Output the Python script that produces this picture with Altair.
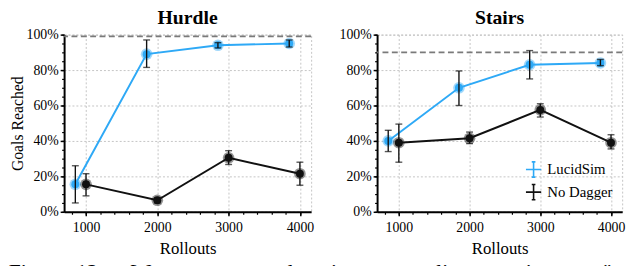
import altair as alt
import pandas as pd

FONT = "Liberation Serif, Times New Roman, Times, serif"

series = ["LucidSim", "No Dagger"]
colors = ["#2ea9f6", "#111111"]

rollouts_lucid = [850, 1850, 2850, 3850]
rollouts_nodagger = [1000, 2000, 3000, 4000]

hurdle_lucid = [15.5, 89, 94, 95]
hurdle_lucid_lo = [5, 81.5, 92.5, 93]
hurdle_lucid_hi = [26, 97, 95.5, 97]
hurdle_nod = [15.5, 6.5, 30.5, 21.5]
hurdle_nod_lo = [9, 5, 26.7, 15]
hurdle_nod_hi = [21.5, 8, 34.5, 28]
hurdle_ref = [99]

stairs_lucid = [40, 70, 83, 84]
stairs_lucid_lo = [34, 60, 75, 82.5]
stairs_lucid_hi = [46, 79.5, 91, 86]
stairs_nod = [39, 41.5, 57.5, 39]
stairs_nod_lo = [28, 38.5, 53.5, 35.5]
stairs_nod_hi = [49.5, 45, 61, 43.5]
stairs_ref = [90]

x_major = [1000, 2000, 3000, 4000]
x_minor = list(range(800, 4200, 200))
y_major = [0, 20, 40, 60, 80, 100]
y_minor = list(range(0, 105, 5))

NB = "\u00a0"
caption_words = ["Figure 12:", "We", "compare", "learning", "on-policy", "against", "naïve"]
caption = (NB * 5).join(w.replace(" ", NB + NB) for w in caption_words)

XDOM = [692.5, 4157.5]
LEGEND_SYMBOL = "M-1,0L1,0M0,-1L0,1M-0.24,-1L0.24,-1M-0.24,1L0.24,1"


def panel(title, lucid, lo1, hi1, nod, lo2, hi2, ref, ytitle, show_legend, width):
    df = pd.DataFrame({
        "Rollouts": rollouts_lucid + rollouts_nodagger,
        "val": lucid + nod,
        "lo": lo1 + lo2,
        "hi": hi1 + hi2,
        "series": [series[0]] * 4 + [series[1]] * 4,
    })
    refdf = pd.DataFrame({"ref": ref})
    xs = alt.Scale(domain=XDOM, nice=False, zero=False)
    ys = alt.Scale(domain=[0, 100], nice=False)
    cs = alt.Scale(domain=series, range=colors)

    major_x = alt.Axis(values=x_major, format="d", title="Rollouts", grid=True,
                       gridDash=[2, 2], gridColor="#c4c4c4", gridWidth=1,
                       tickSize=4, tickWidth=1.5, tickColor="black",
                       domainColor="black", domainWidth=2,
                       labelFont=FONT, labelFontSize=14, labelColor="black",
                       labelPadding=5, titleFont=FONT, titleFontSize=17,
                       titleFontWeight="normal", titleColor="black", titlePadding=6,
                       orient="bottom")
    minor_x = alt.Axis(values=x_minor, labels=False, grid=False, domain=False,
                       tickSize=2.5, tickWidth=1.2, tickColor="black", title=None,
                       orient="bottom")
    major_y = alt.Axis(values=y_major, labelExpr="datum.value + '%'",
                       title=ytitle if ytitle else None, grid=True,
                       gridDash=[2, 2], gridColor="#c4c4c4", gridWidth=1,
                       tickSize=4, tickWidth=1.5, tickColor="black",
                       domainColor="black", domainWidth=2,
                       labelFont=FONT, labelFontSize=14, labelColor="black",
                       labelPadding=2, titleFont=FONT, titleFontSize=16,
                       titleFontWeight="normal", titleColor="black", titlePadding=1,
                       orient="left")
    minor_y = alt.Axis(values=y_minor, labels=False, grid=False, domain=False,
                       tickSize=2.5, tickWidth=1.2, tickColor="black", title=None,
                       orient="left")

    base = alt.Chart(df)
    X = lambda ax: alt.X("Rollouts:Q", scale=xs, axis=ax)

    ref_layer = alt.Chart(refdf).mark_rule(color="#7a7a7a", strokeDash=[6, 3.5], strokeWidth=1.6).encode(
        y=alt.Y("ref:Q", scale=ys, axis=None))
    minor_layer = base.mark_point(opacity=0).encode(
        x=X(minor_x), y=alt.Y("val:Q", scale=ys, axis=minor_y))
    if show_legend:
        leg = alt.Legend(title=None, orient="bottom-right", offset=9,
                         symbolType=LEGEND_SYMBOL, symbolSize=240, symbolStrokeWidth=1.6,
                         labelFont=FONT, labelFontSize=15, labelColor="black",
                         rowPadding=1, labelOffset=5)
    else:
        leg = None
    line_layer = base.mark_line(strokeWidth=2).encode(
        x=X(major_x), y=alt.Y("val:Q", scale=ys, axis=major_y),
        color=alt.Color("series:N", scale=cs, legend=leg))
    halo = base.mark_circle(size=140, opacity=0.45).encode(
        x=X(None), y=alt.Y("val:Q", scale=ys, axis=None),
        color=alt.Color("series:N", scale=cs, legend=None))
    dot = base.mark_circle(size=65, opacity=1).encode(
        x=X(None), y=alt.Y("val:Q", scale=ys, axis=None),
        color=alt.Color("series:N", scale=cs, legend=None))
    err = base.mark_rule(color="#111111", strokeWidth=1.4).encode(
        x=X(None), y=alt.Y("lo:Q", scale=ys, axis=None), y2="hi:Q")
    cap_lo = base.mark_tick(orient="horizontal", size=7, thickness=1.4, color="#111111").encode(
        x=X(None), y=alt.Y("lo:Q", scale=ys, axis=None))
    cap_hi = base.mark_tick(orient="horizontal", size=7, thickness=1.4, color="#111111").encode(
        x=X(None), y=alt.Y("hi:Q", scale=ys, axis=None))

    return alt.layer(ref_layer, minor_layer, line_layer, halo, dot, err, cap_lo, cap_hi).resolve_axis(
        x="independent", y="independent").properties(
        width=width, height=180,
        title=alt.TitleParams(title, font=FONT, fontSize=20, fontWeight="bold", color="black", offset=0))


left = panel("Hurdle", hurdle_lucid, hurdle_lucid_lo, hurdle_lucid_hi,
             hurdle_nod, hurdle_nod_lo, hurdle_nod_hi, hurdle_ref, "Goals Reached", False, 251)
right = panel("Stairs", stairs_lucid, stairs_lucid_lo, stairs_lucid_hi,
              stairs_nod, stairs_nod_lo, stairs_nod_hi, stairs_ref, None, True, 249)

chart = alt.hconcat(left, right, spacing=23).resolve_scale(color="independent").resolve_legend(
    color="independent").properties(
    title=alt.TitleParams(caption, orient="bottom", anchor="start", font=FONT, fontSize=22,
                          fontWeight="normal", color="black", offset=6),
    padding={"left": 0, "top": -3, "right": 0, "bottom": -20},
).configure(font=FONT).configure_axis(labelFont=FONT, titleFont=FONT).configure_title(
    font=FONT).configure_legend(labelFont=FONT).configure_view(stroke="#c4c4c4", strokeDash=[2, 2])

chart.save("out.html", embed_options={"renderer": "svg", "actions": False})
